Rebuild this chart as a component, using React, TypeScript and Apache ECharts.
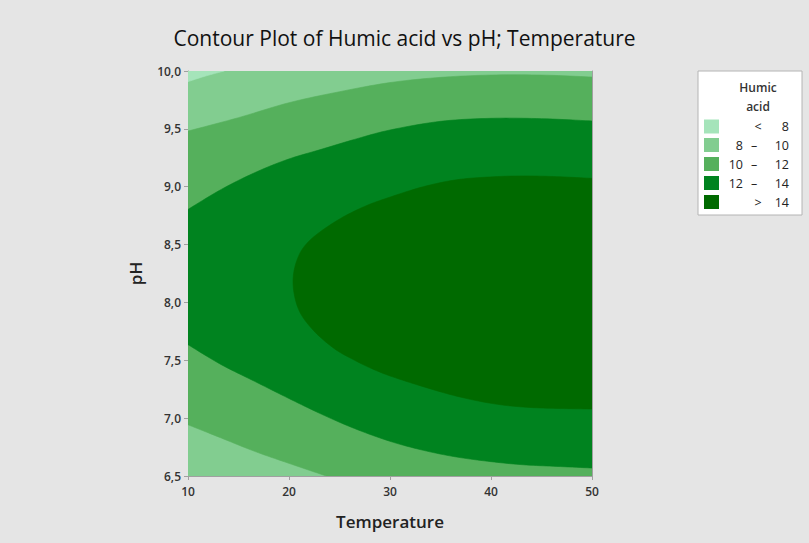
import React, { useEffect, useRef } from "react";
import * as echarts from "echarts";

// ---- Data ----
const temperatureTicks = [10, 20, 30, 40, 50];
const phTicks = [6.5, 7.0, 7.5, 8.0, 8.5, 9.0, 9.5, 10.0];

// Contour boundaries [Temperature, pH]
const humic8 = [[10, 9.908], [11.8, 9.958], [13.6, 10.0]];
const humic10Upper = [[10, 9.481], [15, 9.597], [20, 9.726], [25, 9.821], [30, 9.9], [35, 9.945], [40, 9.965], [45, 9.965], [50, 9.948]];
const humic10Lower = [[10, 6.943], [13.3, 6.828], [16.6, 6.713], [19.9, 6.612], [23.7, 6.5]];
const humic12Upper = [[10, 8.804], [13.3, 8.977], [16.6, 9.121], [19.9, 9.237], [23.2, 9.323], [26.5, 9.409], [30, 9.49], [35, 9.565], [40, 9.591], [45, 9.588], [50, 9.568]];
const humic12Lower = [[10, 7.635], [13.3, 7.462], [16.6, 7.318], [19.9, 7.174], [23.2, 7.035], [26.5, 6.91], [30, 6.8], [33.3, 6.722], [36.6, 6.664], [40, 6.624], [43.2, 6.597], [46.5, 6.583], [50, 6.569]];
const humic14 = [[50, 9.072], [46.5, 9.087], [43.2, 9.093], [40, 9.085], [36.6, 9.06], [33.3, 9.0], [30, 8.91], [27.5, 8.83], [24.8, 8.71], [22.1, 8.54], [20.85, 8.38], [20.4, 8.17], [20.95, 7.94], [22.4, 7.76], [24.5, 7.6], [26.5, 7.5], [28.15, 7.43], [30, 7.365], [33.3, 7.272], [36.6, 7.19], [40, 7.128], [43.2, 7.096], [46.5, 7.084], [50, 7.079]];

const levelColors = ["#a5e4ba", "#82cd90", "#55b05c", "#00831f", "#006a00"];
const legendLow = ["", "8", "10", "12", ""];
const legendSymbol = ["<", "–", "–", "–", ">"];
const legendHigh = ["8", "10", "12", "14", "14"];

const FONT = "'Segoe UI', 'Open Sans', 'Noto Sans', sans-serif";

type Part = { pts: number[][]; smooth: boolean };
const regions: { color: string; parts: Part[] }[] = [
  { color: levelColors[1], parts: [{ pts: [[10, 6.5], [50, 6.5], [50, 10], [10, 10]], smooth: false }] },
  { color: levelColors[2], parts: [{ pts: humic10Upper, smooth: true }, { pts: [[50, 6.5]], smooth: false }, { pts: [...humic10Lower].reverse(), smooth: true }] },
  { color: levelColors[3], parts: [{ pts: humic12Upper, smooth: true }, { pts: [...humic12Lower].reverse(), smooth: true }] },
  { color: levelColors[4], parts: [{ pts: humic14, smooth: true }] },
  { color: levelColors[0], parts: [{ pts: [[10, 10]], smooth: false }, { pts: humic8, smooth: true }] },
];

function catmull(px: number[][], steps = 10): number[][] {
  if (px.length < 3) return px;
  const out: number[][] = [px[0]];
  for (let i = 0; i < px.length - 1; i++) {
    const p0 = px[Math.max(0, i - 1)];
    const p1 = px[i];
    const p2 = px[i + 1];
    const p3 = px[Math.min(px.length - 1, i + 2)];
    for (let s = 1; s <= steps; s++) {
      const t = s / steps;
      const t2 = t * t;
      const t3 = t2 * t;
      const f = (a: number, b: number, c: number, d: number) =>
        0.5 * (2 * b + (-a + c) * t + (2 * a - 5 * b + 4 * c - d) * t2 + (-a + 3 * b - 3 * c + d) * t3);
      out.push([f(p0[0], p1[0], p2[0], p3[0]), f(p0[1], p1[1], p2[1], p3[1])]);
    }
  }
  return out;
}

export default function App() {
  const ref = useRef<HTMLDivElement>(null);
  useEffect(() => {
    if (!ref.current) return;
    const chart = echarts.init(ref.current, null, { renderer: "svg" });
    const rowY = [126.5, 145, 164, 183, 202];
    const legendGraphics: any[] = [
      { type: "rect", shape: { x: 698, y: 71, width: 104, height: 144 }, style: { fill: "#ffffff", stroke: "#b4b4b4", lineWidth: 1 } },
      { type: "text", x: 758, y: 87, style: { text: "Humic", font: `600 12px ${FONT}`, fill: "#333333", textAlign: "center", textVerticalAlign: "middle" } },
      { type: "text", x: 758, y: 106, style: { text: "acid", font: `600 12px ${FONT}`, fill: "#333333", textAlign: "center", textVerticalAlign: "middle" } },
    ];
    rowY.forEach((y, i) => {
      legendGraphics.push({ type: "rect", shape: { x: 704, y: y - 7, width: 15, height: 14 }, style: { fill: levelColors[i] } });
      if (legendLow[i]) legendGraphics.push({ type: "text", x: 743, y, style: { text: legendLow[i], font: `12.5px ${FONT}`, fill: "#222222", textAlign: "right", textVerticalAlign: "middle" } });
      legendGraphics.push({ type: "text", x: legendSymbol[i] === "–" ? 754 : 758, y, style: { text: legendSymbol[i], font: `12.5px ${FONT}`, fill: "#222222", textAlign: "center", textVerticalAlign: "middle" } });
      legendGraphics.push({ type: "text", x: 789, y, style: { text: legendHigh[i], font: `12.5px ${FONT}`, fill: "#222222", textAlign: "right", textVerticalAlign: "middle" } });
    });

    const axisCommon = {
      axisLine: { show: true, lineStyle: { color: "#a0a0a0", width: 1 } },
      axisTick: { show: true, length: 4, lineStyle: { color: "#a0a0a0" } },
      splitLine: { show: false },
    };

    chart.setOption({
      animation: false,
      backgroundColor: "#e5e5e5",
      title: {
        text: "Contour Plot of Humic acid vs pH; Temperature",
        left: "center",
        top: 22,
        textStyle: { fontFamily: FONT, fontSize: 21, fontWeight: 500, color: "#111111" },
      },
      grid: { left: 188, right: 217, top: 71, bottom: 67 },
      xAxis: [
        {
          type: "value", min: temperatureTicks[0], max: temperatureTicks[temperatureTicks.length - 1], interval: 10,
          ...axisCommon,
          axisLabel: { fontFamily: FONT, fontSize: 12, color: "#333333", fontWeight: 600, margin: 9 },
          name: "Temperature", nameLocation: "middle", nameGap: 37,
          nameTextStyle: { fontFamily: FONT, fontSize: 17, fontWeight: 600, color: "#222222" },
        },
        { type: "value", position: "top", min: 10, max: 50, axisLine: { show: true, lineStyle: { color: "#a0a0a0" } }, axisTick: { show: false }, axisLabel: { show: false }, splitLine: { show: false } },
      ],
      yAxis: [
        {
          type: "value", min: phTicks[0], max: phTicks[phTicks.length - 1], interval: 0.5,
          ...axisCommon,
          axisLabel: { fontFamily: FONT, fontSize: 12, color: "#333333", fontWeight: 600, margin: 7, formatter: (v: number) => v.toFixed(1).replace(".", ",") },
          name: "pH", nameLocation: "middle", nameGap: 44, nameRotate: 90,
          nameTextStyle: { fontFamily: FONT, fontSize: 17, fontWeight: 600, color: "#222222" },
        },
        { type: "value", position: "right", min: 6.5, max: 10, axisLine: { show: true, lineStyle: { color: "#a0a0a0" } }, axisTick: { show: false }, axisLabel: { show: false }, splitLine: { show: false } },
      ],
      graphic: legendGraphics,
      series: [
        {
          type: "custom",
          coordinateSystem: "cartesian2d",
          xAxisIndex: 0,
          yAxisIndex: 0,
          clip: true,
          silent: true,
          z: 1,
          data: regions.map((_, i) => [10, 6.5, i]),
          renderItem: (params: any, api: any) => {
            const region = regions[params.dataIndex];
            let points: number[][] = [];
            region.parts.forEach((part) => {
              const px = part.pts.map((p) => api.coord(p));
              points = points.concat(part.smooth ? catmull(px) : px);
            });
            return {
              type: "polygon",
              shape: { points },
              style: { fill: region.color, stroke: region.color, lineWidth: 0.6 },
            };
          },
        },
      ],
    });
    return () => chart.dispose();
  }, []);
  return <div ref={ref} style={{ position: "absolute", left: 0, top: 0, width: 809, height: 543 }} />;
}
